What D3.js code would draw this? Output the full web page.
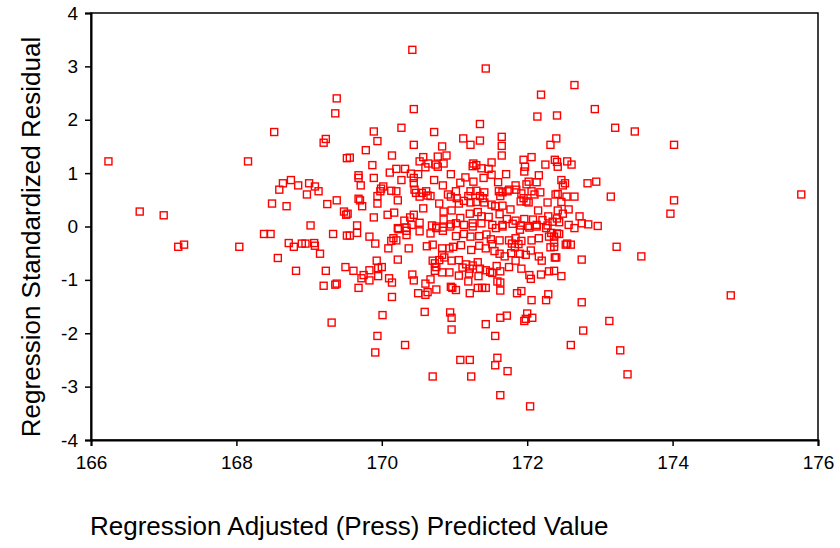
<!DOCTYPE html>
<html>
<head>
<meta charset="utf-8">
<script src="https://cdn.jsdelivr.net/npm/d3@7"></script>
<style>
  body { margin: 0; background: #fff; }
  text { font-family: "Liberation Sans", Arial, sans-serif; fill: #000; }
</style>
</head>
<body>
<div id="scatter"></div>
<script>
// [adjusted predicted value, standardized residual]
var points = [
  [166.24,1.22],[166.67,0.28],[167.0,0.21],[167.2,-0.38],[167.28,-0.34],[168.04,-0.38],
  [174.02,1.53],[175.77,0.60],[174.02,0.49],[173.97,0.24],[174.8,-1.29],
  [169.38,2.40],[169.36,2.12],[168.52,1.77],[169.23,1.64],[169.2,1.57],[169.52,1.28],[168.16,1.22],
  [168.75,0.87],[168.64,0.81],[168.59,0.69],[168.85,0.77],[169.0,0.81],[169.08,0.75],[169.13,0.66],
  [168.97,0.60],[168.49,0.43],[168.69,0.38],[169.25,0.42],[169.38,0.49],[169.48,0.28],[169.51,0.22],
  [169.02,0.02],[168.38,-0.14],[168.47,-0.14],[169.33,-0.14],[169.52,-0.17],[168.72,-0.31],[168.79,-0.38],
  [168.9,-0.32],[168.95,-0.32],[169.07,-0.31],[169.08,-0.36],[169.15,-0.51],[168.57,-0.59],[168.82,-0.83],
  [169.23,-0.83],[169.5,-0.76],[169.2,-1.11],[169.36,-1.09],[169.38,-1.07],[169.31,-1.80],
  [170.42,3.31],[170.44,2.20],[169.89,1.78],[170.27,1.85],[170.72,1.77],[169.94,1.60],[170.44,1.53],
  [170.83,1.50],[169.78,1.43],[169.56,1.29],[170.14,1.33],[170.57,1.30],[170.77,1.31],[170.89,1.33],
  [170.52,1.22],[169.87,1.15],[170.64,1.18],[170.74,1.16],[170.85,1.18],[170.6,1.11],[170.77,1.12],
  [170.2,1.08],[170.32,1.08],[170.11,1.01],[169.68,0.96],[169.68,0.91],[169.89,0.91],[170.4,0.99],
  [170.5,0.98],[170.95,0.98],[170.27,0.87],[170.44,0.91],[170.44,0.81],[170.72,0.87],[169.71,0.77],
  [170.84,0.77],[169.99,0.71],[170.02,0.75],[169.98,0.66],[170.13,0.67],[170.2,0.66],[170.45,0.69],
  [170.47,0.63],[170.55,0.63],[170.61,0.66],[170.63,0.58],[170.52,0.56],[170.67,0.57],[170.91,0.60],
  [170.95,0.56],[169.68,0.52],[169.7,0.49],[169.73,0.38],[169.94,0.57],[169.94,0.43],[170.22,0.49],
  [170.79,0.43],[170.57,0.34],[169.53,0.24],[169.89,0.17],[170.08,0.22],[170.17,0.26],[170.31,0.11],
  [170.39,0.17],[170.44,0.22],[170.52,0.07],[170.41,0.03],[170.69,0.02],[170.85,0.28],[170.85,0.13],
  [170.75,0.0],[170.95,0.04],[169.66,0.02],[170.22,-0.03],[170.34,-0.02],
  [169.66,-0.12],[169.56,-0.17],[169.83,-0.19],[169.91,-0.32],[170.23,-0.05],[170.34,-0.08],[170.34,-0.16],
  [170.16,-0.22],[170.2,-0.26],[170.13,-0.27],[170.52,-0.09],[170.67,-0.13],[170.75,-0.03],[170.84,-0.02],
  [170.84,-0.08],[170.94,0.0],[170.09,-0.41],[170.37,-0.41],[170.62,-0.37],[170.7,-0.34],[170.83,-0.41],
  [170.93,-0.41],[170.83,-0.53],[170.86,-0.58],[170.79,-0.63],[170.7,-0.64],[170.22,-0.62],[169.93,-0.64],
  [170.0,-0.76],[169.95,-0.78],[169.83,-0.82],[169.61,-0.83],[169.75,-0.91],[169.72,-0.97],[169.83,-1.01],
  [169.95,-0.93],[169.68,-1.15],[170.1,-0.97],[170.14,-1.05],[170.14,-1.32],[170.42,-0.90],[170.44,-1.01],
  [170.73,-0.69],[170.73,-0.83],[170.83,-0.86],[170.93,-0.86],[170.75,-0.76],[170.6,-1.07],[170.67,-0.99],
  [170.5,-1.25],[170.6,-1.28],[170.63,-1.23],[170.75,-1.18],[170.95,-1.13],[170.01,-1.66],[170.59,-1.60],
  [170.94,-1.61],[170.96,-1.71],[170.96,-1.93],[169.94,-2.05],[169.91,-2.36],[170.32,-2.22],[170.7,-2.81],
  [171.43,2.96],[172.19,2.47],[172.14,2.06],[172.41,2.08],[171.35,1.92],[171.12,1.65],[171.22,1.53],
  [171.35,1.61],[171.65,1.68],[171.65,1.51],[171.65,1.33],[172.32,1.53],[172.4,1.65],[171.95,1.25],
  [172.06,1.30],[171.26,1.18],[171.3,1.15],[171.25,1.13],[171.51,1.20],[171.37,1.09],[171.47,1.08],
  [171.97,1.12],[171.96,1.03],[172.25,1.16],[172.38,1.25],[171.15,0.92],[171.51,0.97],[171.71,0.98],
  [171.4,0.91],[172.16,0.96],[171.08,0.82],[171.26,0.84],[171.6,0.83],[172.02,0.84],[172.13,0.83],
  [171.99,0.79],[171.84,0.77],[171.75,0.69],[171.02,0.66],[171.22,0.66],[171.3,0.67],[171.35,0.57],
  [171.41,0.64],[171.39,0.53],[171.61,0.66],[171.66,0.64],[171.73,0.66],[171.63,0.57],[171.85,0.69],
  [171.92,0.62],[171.95,0.53],[171.99,0.47],[172.06,0.66],[172.1,0.60],[172.18,0.64],[172.28,0.45],
  [172.39,0.60],[171.03,0.53],[171.06,0.43],[171.13,0.48],[171.19,0.57],[171.22,0.45],[171.3,0.46],
  [171.41,0.45],[171.51,0.41],[171.56,0.38],[171.66,0.39],[171.77,0.32],[171.91,0.47],[172.02,0.45],
  [172.15,0.30],[172.29,0.19],[170.96,0.30],[171.08,0.16],[171.21,0.24],[171.32,0.27],[171.37,0.19],
  [171.47,0.18],[171.62,0.23],[171.72,0.14],[171.84,0.11],[171.96,0.14],[172.08,0.13],[172.21,0.12],
  [172.35,0.09],[171.02,0.06],[171.13,0.03],[171.25,0.06],[171.37,0.06],[171.52,0.03],[171.66,0.03],
  [171.8,0.05],[171.91,0.02],[172.01,0.01],[172.13,0.03],[172.28,0.02],
  [171.25,0.0],[171.57,-0.03],[171.66,0.0],[171.9,-0.06],[172.03,-0.02],[172.13,0.0],[172.26,-0.03],
  [172.33,-0.12],[171.02,-0.18],[171.13,-0.14],[171.22,-0.19],[171.34,-0.18],[171.44,-0.15],[171.5,-0.24],
  [171.62,-0.26],[171.75,-0.26],[171.84,-0.22],[171.92,-0.27],[172.06,-0.26],[172.16,-0.22],[172.3,-0.19],
  [172.37,-0.30],[170.98,-0.38],[171.09,-0.35],[171.23,-0.44],[171.34,-0.36],[171.43,-0.41],[171.52,-0.33],
  [171.55,-0.46],[171.62,-0.51],[171.69,-0.56],[171.79,-0.32],[171.83,-0.39],[171.88,-0.33],[171.78,-0.50],
  [171.9,-0.51],[171.98,-0.53],[172.05,-0.45],[172.16,-0.56],[172.2,-0.64],[172.32,-0.39],[172.38,-0.58],
  [170.96,-0.64],[171.06,-0.63],[171.16,-0.71],[171.25,-0.73],[171.32,-0.67],[171.11,-0.77],[171.21,-0.79],
  [171.35,-0.79],[171.43,-0.82],[171.49,-0.85],[171.58,-0.74],[171.63,-0.84],[171.75,-0.76],[171.84,-0.64],
  [171.92,-0.79],[172.03,-0.91],[172.05,-0.98],[172.19,-0.90],[172.3,-0.84],[171.06,-0.92],[171.2,-0.88],
  [171.33,-0.93],[171.52,-0.87],[171.59,-1.03],[171.63,-1.05],[171.19,-1.03],[170.97,-1.15],[171.02,-1.19],
  [171.21,-1.25],[171.32,-1.15],[171.38,-1.15],[171.43,-1.15],[171.63,-1.20],[171.86,-1.25],[171.92,-1.21],
  [172.06,-1.38],[172.26,-1.38],[172.29,-1.27],[171.43,-1.83],[171.63,-1.71],[171.72,-1.67],[172.0,-1.63],
  [171.98,-1.73],[172.07,-1.71],[171.96,-1.77],[171.56,-2.05],[171.08,-2.50],[171.21,-2.50],[171.59,-2.46],
  [171.56,-2.60],[171.73,-2.71],[171.23,-2.81],[171.63,-3.16],[172.04,-3.37],
  [172.65,2.65],[172.93,2.20],[173.21,1.85],[173.48,1.78],[172.55,1.22],[172.61,1.16],[172.41,1.21],
  [172.42,1.12],[172.47,0.87],[172.52,0.81],[172.49,0.77],[172.83,0.81],[172.95,0.84],[172.42,0.61],
  [172.54,0.56],[172.65,0.56],[173.15,0.56],[172.47,0.46],[172.42,0.30],[172.57,0.32],[172.49,0.24],
  [172.72,0.19],[172.41,0.15],[172.44,0.08],[172.57,0.03],[172.75,0.06],[172.84,0.04],[172.97,0.01],
  [172.65,-0.03],[172.41,-0.13],[172.44,-0.14],[172.37,-0.19],[172.55,-0.32],[172.53,-0.34],[172.6,-0.34],
  [173.23,-0.38],[173.57,-0.56],[172.37,-0.38],[172.4,-0.58],[172.75,-0.62],[172.37,-0.83],[172.47,-0.93],
  [172.75,-1.42],[173.13,-1.77],[172.77,-1.95],[172.6,-2.22],[173.28,-2.32],[173.38,-2.77]
];

var xTicks = [166, 168, 170, 172, 174, 176];
var yTicks = [-4, -3, -2, -1, 0, 1, 2, 3, 4];
var xTitle = "Regression Adjusted (Press) Predicted Value";
var yTitle = "Regression Standardized Residual";

var margin = { top: 13, right: 22, bottom: 108, left: 91 },
    width = 840 - margin.left - margin.right,
    height = 548 - margin.top - margin.bottom;

var svg = d3.select("#scatter")
    .append("svg")
    .attr("width", 840)
    .attr("height", 548);

var g = svg.append("g")
    .attr("transform", "translate(" + margin.left + "," + margin.top + ")");

var x = d3.scaleLinear().domain([166, 176]).range([0, width]);
var y = d3.scaleLinear().domain([-4, 4]).range([height, 0]);

// frame
g.append("rect")
    .attr("width", width)
    .attr("height", height)
    .attr("fill", "none")
    .attr("stroke", "#000")
    .attr("stroke-width", 1.5);

var xAxis = g.append("g")
    .attr("transform", "translate(0," + height + ")")
    .call(d3.axisBottom(x).tickValues(xTicks).tickSize(6).tickPadding(10).tickFormat(d3.format("d")));
xAxis.select(".domain").attr("stroke-width", 2);
xAxis.selectAll(".tick line").attr("stroke-width", 1.5);
xAxis.selectAll("text")
    .attr("font-size", 19)
    .attr("font-family", null);

var yAxis = g.append("g")
    .call(d3.axisLeft(y).tickValues(yTicks).tickSize(6).tickPadding(7).tickFormat(d => String(d)));
yAxis.select(".domain").attr("stroke-width", 2);
yAxis.selectAll(".tick line").attr("stroke-width", 1.5);
yAxis.selectAll("text")
    .attr("font-size", 19)
    .attr("font-family", null);

// points
g.selectAll(".pt")
    .data(points)
    .join("rect")
    .attr("class", "pt")
    .attr("x", d => x(d[0]) - 3.5)
    .attr("y", d => y(d[1]) - 3.5)
    .attr("width", 7)
    .attr("height", 7)
    .attr("fill", "none")
    .attr("stroke", "#ff0000")
    .attr("stroke-width", 1.4);

// titles
svg.append("text")
    .attr("x", 90)
    .attr("y", 535)
    .attr("font-size", 26)
    .text(xTitle);

svg.append("text")
    .attr("transform", "translate(40,237) rotate(-90)")
    .attr("text-anchor", "middle")
    .attr("font-size", 26)
    .text(yTitle);
</script>
</body>
</html>
